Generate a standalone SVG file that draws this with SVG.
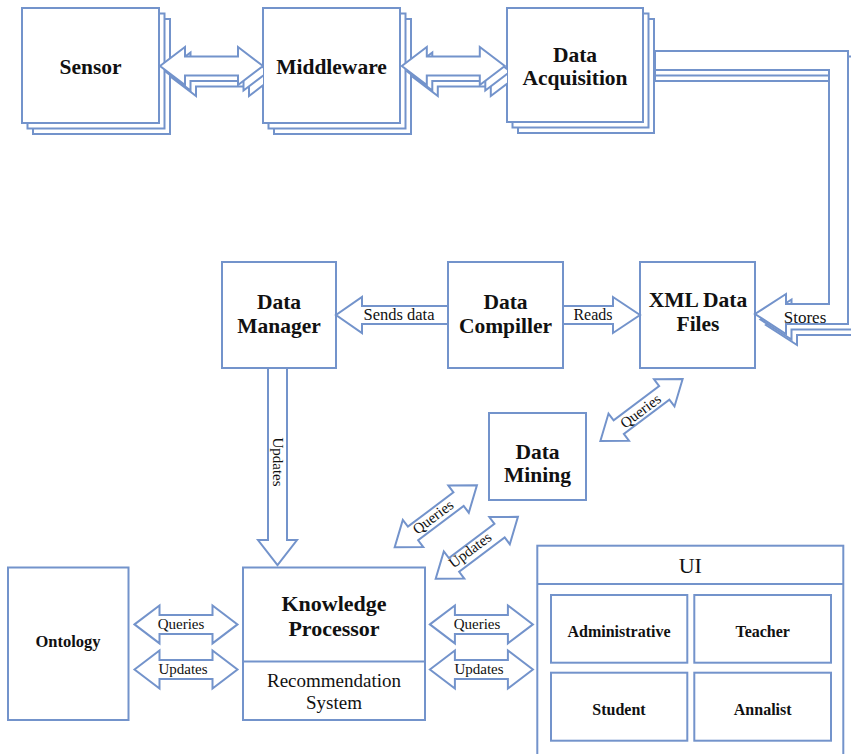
<svg xmlns="http://www.w3.org/2000/svg" xmlns:xlink="http://www.w3.org/1999/xlink" width="851" height="754" viewBox="0 0 851 754">
<style>
.s{fill:#fff;stroke:#7393CB;stroke-width:2;stroke-linejoin:miter}
.t{font-family:"Liberation Serif","Times New Roman",serif;fill:#111;text-anchor:middle}
.b{font-weight:bold}
.n{font-size:21.5px}
.l{font-size:15px}
</style>
<defs>
<path id="dh" d="M-51.5,0 L-26.5,-19 L-26.5,-9.5 L26.5,-9.5 L26.5,-19 L51.5,0 L26.5,19 L26.5,9.5 L-26.5,9.5 L-26.5,19 Z"/>
<path id="dd" d="M-51.5,0 L-28.5,-17 L-28.5,-8.5 L28.5,-8.5 L28.5,-17 L51.5,0 L28.5,17 L28.5,8.5 L-28.5,8.5 L-28.5,17 Z"/>
<clipPath id="c1"><rect x="150" y="0" width="113" height="140"/></clipPath>
<clipPath id="c2"><rect x="395" y="0" width="112" height="140"/></clipPath>
</defs>
<rect width="851" height="754" fill="#fff"/>
<g id="sensor">
  <rect class="s" x="33" y="19" width="137" height="115"/>
  <rect class="s" x="27.5" y="13.5" width="137" height="115"/>
  <rect class="s" x="22" y="8" width="137" height="115"/>
  <text class="t b n" x="90.5" y="74">Sensor</text>
</g>
<g id="middleware">
  <rect class="s" x="274" y="19" width="137" height="115"/>
  <rect class="s" x="268.5" y="13.5" width="137" height="115"/>
  <rect class="s" x="263" y="8" width="137" height="115"/>
  <text class="t b n" x="331.5" y="74">Middleware</text>
</g>
<g id="data-acquisition">
  <rect class="s" x="518" y="19" width="136" height="114"/>
  <rect class="s" x="512.5" y="13.5" width="136" height="114"/>
  <rect class="s" x="507" y="8" width="136" height="114"/>
  <text class="t b n" x="575" y="62">Data</text>
  <text class="t b n" x="575" y="85">Acquisition</text>
</g>
<g id="data-manager">
  <rect class="s" x="222" y="262" width="114" height="106"/>
  <text class="t b n" x="279" y="309">Data</text>
  <text class="t b n" x="279" y="333">Manager</text>
</g>
<g id="data-compiller">
  <rect class="s" x="448" y="262" width="115" height="106"/>
  <text class="t b n" x="505.5" y="309">Data</text>
  <text class="t b n" x="505.5" y="333">Compiller</text>
</g>
<g id="xml-data-files">
  <rect class="s" x="640" y="262" width="115" height="106"/>
  <text class="t b n" x="698" y="307">XML Data</text>
  <text class="t b n" x="698" y="331">Files</text>
</g>
<g id="data-mining">
  <rect class="s" x="489" y="413" width="97" height="87"/>
  <text class="t b n" x="537.5" y="459">Data</text>
  <text class="t b n" x="537.5" y="482">Mining</text>
</g>
<g id="ontology">
  <rect class="s" x="8" y="567.5" width="120.5" height="152.5"/>
  <text class="t b" x="68" y="647" style="font-size:16.5px">Ontology</text>
</g>
<g id="knowledge-processor">
  <rect class="s" x="243" y="567.5" width="182" height="152.5"/>
  <line class="s" x1="243" y1="661.6" x2="425" y2="661.6"/>
  <text class="t b" x="334" y="610.6" style="font-size:22px">Knowledge</text>
  <text class="t b" x="334" y="636.4" style="font-size:22px">Processor</text>
  <text class="t" x="334" y="687" style="font-size:19px">Recommendation</text>
  <text class="t" x="334" y="708.7" style="font-size:19px">System</text>
</g>
<g id="ui">
  <rect class="s" x="537.3" y="545.7" width="306" height="220"/>
  <line class="s" x1="537.3" y1="584" x2="843.3" y2="584"/>
  <text class="t" x="690.3" y="573.3" style="font-size:22px">UI</text>
  <g id="administrative">
    <rect class="s" x="551" y="595" width="136.3" height="67.7"/>
    <text class="t b" x="619" y="637" style="font-size:16px">Administrative</text>
  </g>
  <g id="teacher">
    <rect class="s" x="694.3" y="595" width="136.7" height="67.7"/>
    <text class="t b" x="762.7" y="637" style="font-size:16px">Teacher</text>
  </g>
  <g id="student">
    <rect class="s" x="551" y="672.7" width="136.3" height="68"/>
    <text class="t b" x="619" y="715" style="font-size:16px">Student</text>
  </g>
  <g id="annalist">
    <rect class="s" x="694.3" y="672.7" width="136.7" height="68"/>
    <text class="t b" x="762.7" y="715" style="font-size:16px">Annalist</text>
  </g>
</g>
<g id="connectors">
  <!-- Sensor <-> Middleware (stacked) -->
  <g clip-path="url(#c1)">
    <use xlink:href="#dh" class="s" transform="translate(222.5,77)"/>
    <use xlink:href="#dh" class="s" transform="translate(217,71.5)"/>
    <use xlink:href="#dh" class="s" transform="translate(211.5,66)"/>
  </g>
  <!-- Middleware <-> Data Acquisition (stacked) -->
  <g clip-path="url(#c2)">
    <use xlink:href="#dh" class="s" transform="translate(464.3,77)"/>
    <use xlink:href="#dh" class="s" transform="translate(458.8,71.5)"/>
    <use xlink:href="#dh" class="s" transform="translate(453.3,66)"/>
  </g>
  <!-- Data Acquisition -> XML Data Files (Stores), stacked -->
  <path class="s" d="M655,62 L859,62 L859,335 L797,335 L797,345 L766,325 L797,305 L797,315 L840,315 L840,81 L655,81 Z"/>
  <path class="s" d="M655,56.5 L853.5,56.5 L853.5,329.5 L791.5,329.5 L791.5,339.5 L760.5,319.5 L791.5,299.5 L791.5,309.5 L834.5,309.5 L834.5,75.5 L655,75.5 Z"/>
  <path class="s" d="M655,51 L848,51 L848,324 L786,324 L786,334 L755,314 L786,294 L786,304 L829,304 L829,70 L655,70 Z"/>
  <text class="t" x="805" y="323" style="font-size:17px">Stores</text>
  <!-- Data Compiller -> Data Manager -->
  <path class="s" d="M448,306 L362,306 L362,297 L336,315 L362,333 L362,324 L448,324 Z"/>
  <text class="t" x="399" y="319.5" style="font-size:16.5px">Sends data</text>
  <!-- Data Compiller -> XML -->
  <path class="s" d="M563,306 L613,306 L613,297 L640,315 L613,333 L613,324 L563,324 Z"/>
  <text class="t" x="593" y="319.5" style="font-size:16px">Reads</text>
  <!-- Data Manager -> Knowledge Processor -->
  <path class="s" d="M268,368 L268,540 L258,540 L277.5,565 L297,540 L287,540 L287,368 Z"/>
  <text class="t l" transform="translate(277.5,462) rotate(90)" x="0" y="5">Updates</text>
  <!-- XML <-> Data Mining -->
  <use xlink:href="#dd" class="s" transform="translate(641.5,410) rotate(-37)"/>
  <text class="t l" transform="translate(640.5,411) rotate(-37)" x="0" y="5">Queries</text>
  <!-- Data Mining <-> KP -->
  <use xlink:href="#dd" class="s" transform="translate(435.8,516.3) rotate(-37)"/>
  <text class="t l" transform="translate(433,517) rotate(-37)" x="0" y="5">Queries</text>
  <use xlink:href="#dd" class="s" transform="translate(476.8,547.8) rotate(-37)"/>
  <text class="t l" transform="translate(470,550) rotate(-37)" x="0" y="5">Updates</text>
  <!-- Ontology <-> KP -->
  <use xlink:href="#dh" class="s" transform="translate(186,624.4)"/>
  <text class="t l" x="181" y="629">Queries</text>
  <use xlink:href="#dh" class="s" transform="translate(186,669.5)"/>
  <text class="t l" x="183" y="674">Updates</text>
  <!-- KP <-> UI -->
  <use xlink:href="#dh" class="s" transform="translate(481.4,624.4)"/>
  <text class="t l" x="477" y="629">Queries</text>
  <use xlink:href="#dh" class="s" transform="translate(481.4,669.5)"/>
  <text class="t l" x="479" y="674">Updates</text>
</g>
</svg>
